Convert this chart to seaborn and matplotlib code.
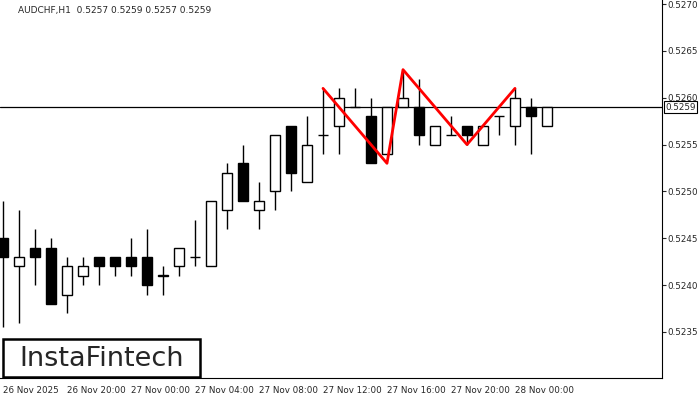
import numpy as np
import matplotlib
matplotlib.use("Agg")
import matplotlib.pyplot as plt
from matplotlib.patches import Rectangle
import seaborn as sns

opens  = [.5245, .5242, .5244, .5244, .5239, .5241, .5243, .5243, .5243, .5243, .5241, .5242, .5243, .5242,
          .5248, .5253, .5248, .5250, .5257, .5251, .5256, .5257, .5259, .5258, .5254, .5259, .5259, .5255,
          .5256, .5257, .5255, .5258, .5257, .5259, .5257]
highs  = [.5249, .5248, .5246, .5245, .5243, .5243, .5243, .5243, .5245, .5246, .5242, .5244, .5247, .5249,
          .5253, .5255, .5251, .5256, .5257, .5258, .5261, .5261, .5261, .5260, .5259, .5263, .5262, .5257,
          .5258, .5257, .5257, .5258, .5261, .5260, .5259]
lows   = [.52355, .5236, .5240, .5238, .5237, .5240, .5240, .5241, .5241, .5239, .5239, .5241, .5242, .5242,
          .5246, .5249, .5246, .5248, .5250, .5251, .5254, .5254, .5259, .5253, .5254, .5259, .5255, .5255,
          .5256, .5255, .5255, .5256, .5255, .5254, .5257]
closes = [.5243, .5243, .5243, .5238, .5242, .5242, .5242, .5242, .5242, .5240, .5241, .5244, .5243, .5249,
          .5252, .5249, .5249, .5256, .5252, .5255, .5256, .5260, .5259, .5253, .5259, .5260, .5256, .5257,
          .5256, .5256, .5257, .5258, .5260, .5258, .5259]

pattern_idx = [20, 24, 25, 29, 32]
pattern_px = [.5261, .5253, .5263, .5255, .5261]

time_labels = ["26 Nov 2025", "26 Nov 20:00", "27 Nov 00:00", "27 Nov 04:00", "27 Nov 08:00",
               "27 Nov 12:00", "27 Nov 16:00", "27 Nov 20:00", "28 Nov 00:00"]
price_ticks = [.5235, .5240, .5245, .5250, .5255, .5260, .5265, .5270]
last_price = .5259

sns.set_style("white")
plt.rcParams["font.family"] = ["DejaVu Sans"]

fig = plt.figure(figsize=(7, 4), dpi=100)
ax = fig.add_axes([0, 22 / 400, 662 / 700, 378 / 400])

x = np.arange(len(opens))
o, h, l, c = map(np.array, (opens, highs, lows, closes))
ax.vlines(x, l, h, color="black", lw=1, zorder=2)
up = c >= o
bottom = np.minimum(o, c)
height = np.maximum(np.abs(c - o), 0.000005)
ax.bar(x[up], height[up], bottom=bottom[up], width=0.62, color="white", edgecolor="black", lw=1, zorder=3)
ax.bar(x[~up], height[~up], bottom=bottom[~up], width=0.62, color="black", edgecolor="black", lw=1, zorder=3)

ax.axhline(last_price, color="black", lw=0.9, zorder=1)
sns.lineplot(x=pattern_idx, y=pattern_px, ax=ax, color="red", lw=2, sort=False, zorder=5)

ax.set_xlim(-0.19, 41.19)
ax.set_ylim(0.523009, 0.527043)
ax.set_xticks(np.arange(0, 33, 4))
ax.set_xticklabels(time_labels, fontsize=6.3, ha="left")
ax.yaxis.tick_right()
ax.set_yticks(price_ticks)
ax.set_yticklabels([f"{p:.4f}" for p in price_ticks], fontsize=6.3)
ax.tick_params(axis="both", length=3, direction="out", pad=1)
ax.tick_params(axis="x", pad=3)
for s in ["left", "top"]:
    ax.spines[s].set_visible(False)
for s in ["right", "bottom"]:
    ax.spines[s].set_color("black")
    ax.spines[s].set_linewidth(0.8)

ax.text(1.005, last_price, f"{last_price:.4f}", transform=ax.get_yaxis_transform(), fontsize=6.3,
        va="center", ha="left", bbox=dict(facecolor="white", edgecolor="black", lw=0.8, pad=0.8), zorder=10)
ax.text(18 / 662, 1 - 10 / 378, "AUDCHF,H1  0.5257 0.5259 0.5257 0.5259", transform=ax.transAxes,
        fontsize=6.5, va="center", ha="left")

# logo box
ax.add_patch(Rectangle((3 / 662, 0.002), 197 / 662, 38 / 378, transform=ax.transAxes,
                       facecolor="white", edgecolor="black", lw=1.8, zorder=10))
ax.text(102 / 662, 19 / 378, "InstaFintech", transform=ax.transAxes, fontsize=19.5,
        va="center", ha="center", zorder=11)

fig.savefig("out.png", dpi=100)
